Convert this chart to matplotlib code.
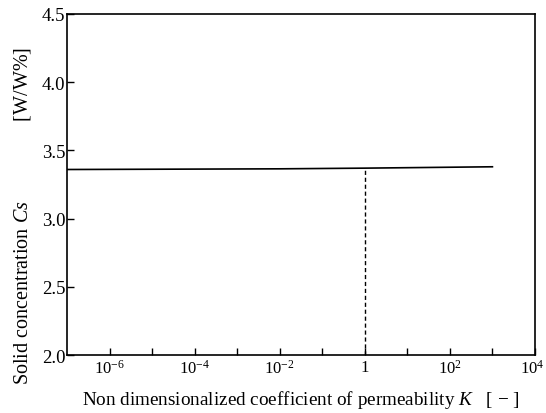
import numpy as np
import matplotlib.pyplot as plt
import matplotlib.transforms as mtransforms

plt.rcParams['font.family'] = ['Liberation Serif', 'DejaVu Serif']
plt.rcParams['mathtext.fontset'] = 'custom'
plt.rcParams['mathtext.rm'] = 'Liberation Serif'
plt.rcParams['mathtext.it'] = 'Liberation Serif:italic'

# solid concentration vs permeability coefficient
K = [1e-7, 1e-2, 1.0, 1e3]
Cs = [3.36, 3.365, 3.37, 3.38]
K_mark = 1.0
Cs_mark = 3.37

xtick_pos = [10.0 ** e for e in range(-6, 5)]
xtick_lab = ['$10^{-6}$', '', '$10^{-4}$', '', '$10^{-2}$', '', '1', '', '$10^{2}$', '', '$10^{4}$']
yticks = [2.0, 2.5, 3.0, 3.5, 4.0, 4.5]

fig = plt.figure(figsize=(5.46, 4.14), dpi=100)
ax = fig.add_axes([0.1227, 0.140, 0.8571, 0.8238])

ax.plot(K, Cs, color='black', lw=1.2)
ax.plot([K_mark, K_mark], [2.0, Cs_mark], color='black', lw=1.0, ls=(0, (3, 2)))

ax.set_xscale('log')
ax.set_xlim(1e-7, 1e4)
ax.set_ylim(2.0, 4.5)
ax.set_xticks(xtick_pos)
ax.set_xticklabels(xtick_lab)
ax.minorticks_off()
ax.set_yticks(yticks)
ax.set_yticklabels(['%.1f' % v for v in yticks])
ax.tick_params(direction='in', length=5, width=1, pad=3)
ax.tick_params(axis='x', labelsize=12)
ax.tick_params(axis='y', labelsize=13.5, pad=1)
for s in ax.spines.values():
    s.set_linewidth(1.2)

# keep the last decade label inside the canvas
last = ax.get_xticklabels()[-1]
last.set_transform(last.get_transform() + mtransforms.ScaledTranslation(-3 / 100, 0, fig.dpi_scale_trans))

ax.set_xlabel(r'Non dimensionalized coefficient of permeability $K$   [$\,-\,$]', fontsize=13.8, labelpad=8)
ax.set_ylabel(r'Solid concentration $Cs$' + ' ' * 16 + '[W/W%]', fontsize=14.5)
ax.yaxis.set_label_coords(-0.073, 0.41)

fig.savefig('out.png', dpi=100)
